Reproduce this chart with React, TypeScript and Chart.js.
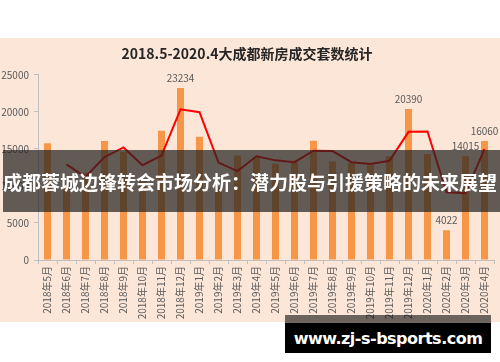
import React, { useEffect, useRef } from "react";
import { Chart, registerables } from "chart.js";

Chart.register(...registerables);

const titleText = "2018.5-2020.4大成都新房成交套数统计";

const categories = [
  "2018年5月", "2018年6月", "2018年7月", "2018年8月", "2018年9月", "2018年10月",
  "2018年11月", "2018年12月", "2019年1月", "2019年2月", "2019年3月", "2019年4月",
  "2019年5月", "2019年6月", "2019年7月", "2019年8月", "2019年9月", "2019年10月",
  "2019年11月", "2019年12月", "2020年1月", "2020年2月", "2020年3月", "2020年4月",
];

const barValues = [
  15750, 10200, 11800, 16050, 14600, 10800,
  17450, 23234, 16650, 9800, 14100, 13900,
  13000, 13400, 16100, 13300, 13100, 12800,
  14000, 20390, 14300, 4022, 14015, 16060,
];

const lineValues = [
  null, 12900, 11200, 13900, 15200, 12800,
  14100, 20350, 19950, 13150, 12000, 14000,
  13450, 13200, 14750, 14700, 13200, 12950,
  13400, 17300, 17350, 9150, 9000, 15000,
];

const labeledIndices = [7, 19, 21, 22, 23];

const yTicks = [0, 5000, 10000, 15000, 20000, 25000];

const bannerText = "成都蓉城边锋转会市场分析：潜力股与引援策略的未来展望";
const siteText = "www.zj-s-bsports.com";

const FONT = '"Noto Sans CJK SC", "Noto Sans", sans-serif';

const barLabelPlugin = {
  id: "barLabels",
  afterDatasetsDraw(chart: any) {
    const ctx = chart.ctx;
    const dsIndex = chart.data.datasets.findIndex((d: any) => d.type === "bar");
    const meta = chart.getDatasetMeta(dsIndex);
    const data = chart.data.datasets[dsIndex].data;
    ctx.save();
    ctx.font = `10px ${FONT}`;
    ctx.fillStyle = "#595959";
    ctx.textAlign = "center";
    ctx.textBaseline = "middle";
    labeledIndices.forEach((i) => {
      const el = meta.data[i];
      if (!el) return;
      ctx.fillText(String(data[i]), el.x, el.y - 10);
    });
    ctx.restore();
  },
};

function ChartView() {
  const ref = useRef<HTMLCanvasElement>(null);
  useEffect(() => {
    if (!ref.current) return;
    const chart = new Chart(ref.current, {
      type: "bar",
      data: {
        labels: categories,
        datasets: [
          {
            type: "bar",
            label: "成交套数",
            data: barValues,
            backgroundColor: "#F79646",
            barPercentage: 0.37,
            categoryPercentage: 1,
            order: 2,
          } as any,
          {
            type: "line",
            label: "均线",
            data: lineValues,
            borderColor: "#FF0000",
            borderWidth: 2,
            pointRadius: 0,
            tension: 0,
            fill: false,
            order: 1,
          } as any,
        ],
      },
      options: {
        responsive: false,
        animation: false,
        devicePixelRatio: 1,
        layout: { padding: { top: 0, right: 6, left: 0, bottom: 0 } },
        plugins: {
          legend: { display: false },
          tooltip: { enabled: false },
          title: {
            display: true,
            text: titleText,
            color: "#262626",
            font: { family: FONT, size: 14, weight: "bold" },
            padding: { top: 7, bottom: 13 },
          },
        },
        scales: {
          x: {
            offset: true,
            grid: {
              display: true,
              drawOnChartArea: false,
              drawTicks: true,
              tickLength: 4,
              color: "#bfbfbf",
              offset: true,
            },
            border: { color: "#bfbfbf" },
            ticks: {
              autoSkip: false,
              minRotation: 90,
              maxRotation: 90,
              color: "#595959",
              font: { family: FONT, size: 10 },
              padding: 2,
            },
            afterFit(scale: any) {
              scale.height = 62;
            },
          },
          y: {
            min: 0,
            max: 25000,
            afterBuildTicks(scale: any) {
              scale.ticks = yTicks.map((v) => ({ value: v }));
            },
            grid: {
              display: true,
              drawOnChartArea: false,
              drawTicks: true,
              tickLength: 4,
              color: "#bfbfbf",
            },
            border: { color: "#bfbfbf" },
            ticks: {
              color: "#595959",
              font: { family: FONT, size: 10 },
              padding: 5,
              callback: (v: any) => String(v),
            },
            afterFit(scale: any) {
              scale.width = 38;
            },
          },
        },
      },
      plugins: [barLabelPlugin],
    });
    return () => chart.destroy();
  }, []);
  return <canvas ref={ref} width={500} height={284} style={{ display: "block" }} />;
}

export default function App() {
  return (
    <div
      style={{
        position: "fixed",
        left: 0,
        top: 0,
        width: 500,
        height: 362,
        background: "#ffffff",
        overflow: "hidden",
        fontFamily: FONT,
      }}
    >
      <div
        style={{
          position: "absolute",
          left: 0,
          top: 38,
          width: 500,
          height: 284,
          background: "#FCE6D8",
        }}
      >
        <ChartView />
      </div>
      <div
        style={{
          position: "absolute",
          left: 3,
          top: 150,
          width: 497,
          height: 62,
          background: "rgba(38,36,34,0.72)",
          color: "#ffffff",
          display: "flex",
          alignItems: "center",
          fontSize: 19,
          fontWeight: 700,
          whiteSpace: "nowrap",
          letterSpacing: 0,
        }}
      >
        {bannerText}
      </div>
      <div
        style={{
          position: "absolute",
          left: 285,
          top: 315,
          width: 206,
          height: 8,
          background: "rgba(20,18,16,0.62)",
        }}
      />
      <div
        style={{
          position: "absolute",
          left: 285,
          top: 323,
          width: 206,
          height: 30,
          background: "#000000",
          color: "#ffffff",
          display: "flex",
          alignItems: "center",
          justifyContent: "center",
          fontSize: 16,
          fontWeight: 700,
          letterSpacing: -0.5,
          fontFamily: '"DejaVu Sans", sans-serif',
          whiteSpace: "nowrap",
        }}
      >
        {siteText}
      </div>
    </div>
  );
}
